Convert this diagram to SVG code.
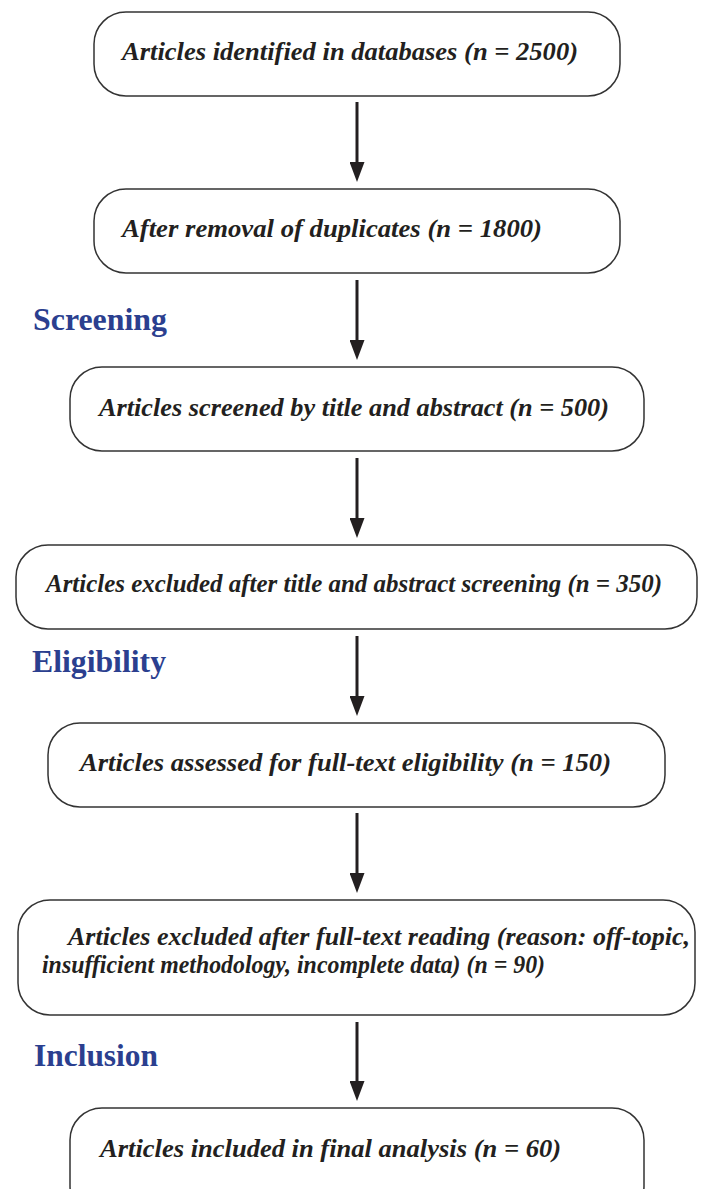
<svg xmlns="http://www.w3.org/2000/svg" width="702" height="1189" viewBox="0 0 702 1189">
<style>
.box{fill:#fff;stroke:#333;stroke-width:1.5}
.t{font-family:"Liberation Serif","Times New Roman",serif;font-weight:bold;font-style:italic;font-size:26px;fill:#231f20}
.lab{font-family:"Liberation Serif","Times New Roman",serif;font-weight:bold;font-size:31px;fill:#2b3f8f}
.con line{stroke:#231f20;stroke-width:3}
</style>
<defs>
<marker id="ah" markerWidth="20" markerHeight="15" refX="10" refY="7.5" orient="auto" markerUnits="userSpaceOnUse">
<path d="M0,0 L20,7.5 L0,15 Z" fill="#231f20"/>
</marker>
</defs>
<rect width="702" height="1189" fill="#fff"/>
<g class="con">
<line x1="357" y1="102" x2="357" y2="172" marker-end="url(#ah)"/>
<line x1="357" y1="280" x2="357" y2="350" marker-end="url(#ah)"/>
<line x1="357" y1="458" x2="357" y2="528" marker-end="url(#ah)"/>
<line x1="357" y1="636" x2="357" y2="706" marker-end="url(#ah)"/>
<line x1="357" y1="813" x2="357" y2="883" marker-end="url(#ah)"/>
<line x1="357" y1="1022" x2="357" y2="1091" marker-end="url(#ah)"/>
</g>
<text class="lab" x="33" y="330" textLength="134" lengthAdjust="spacingAndGlyphs">Screening</text>
<text class="lab" x="32" y="672" textLength="134" lengthAdjust="spacingAndGlyphs">Eligibility</text>
<text class="lab" x="34" y="1066" textLength="124" lengthAdjust="spacingAndGlyphs">Inclusion</text>
<g id="n1"><rect class="box" x="94" y="12" width="526" height="84" rx="32"/>
<text class="t" x="122" y="60" textLength="456" lengthAdjust="spacingAndGlyphs">Articles identified in databases (n = 2500)</text></g>
<g id="n2"><rect class="box" x="94" y="189" width="526" height="84" rx="32"/>
<text class="t" x="122" y="237" textLength="420" lengthAdjust="spacingAndGlyphs">After removal of duplicates (n = 1800)</text></g>
<g id="n3"><rect class="box" x="70" y="367" width="574" height="84" rx="32"/>
<text class="t" x="99" y="416" textLength="510" lengthAdjust="spacingAndGlyphs">Articles screened by title and abstract (n = 500)</text></g>
<g id="n4"><rect class="box" x="16" y="545" width="681" height="84" rx="32"/>
<text class="t" x="46" y="592" textLength="616" lengthAdjust="spacingAndGlyphs">Articles excluded after title and abstract screening (n = 350)</text></g>
<g id="n5"><rect class="box" x="48" y="723" width="617" height="84" rx="32"/>
<text class="t" x="80" y="771" textLength="531" lengthAdjust="spacingAndGlyphs">Articles assessed for full-text eligibility (n = 150)</text></g>
<g id="n6"><rect class="box" x="18" y="900" width="677" height="115" rx="32"/>
<text class="t" x="68" y="945" textLength="622" lengthAdjust="spacingAndGlyphs">Articles excluded after full-text reading (reason: off-topic,</text>
<text class="t" x="42" y="973" textLength="503" lengthAdjust="spacingAndGlyphs">insufficient methodology, incomplete data) (n = 90)</text></g>
<g id="n7"><rect class="box" x="70" y="1108" width="574" height="110" rx="32"/>
<text class="t" x="100" y="1157" textLength="461" lengthAdjust="spacingAndGlyphs">Articles included in final analysis (n = 60)</text></g>
</svg>
